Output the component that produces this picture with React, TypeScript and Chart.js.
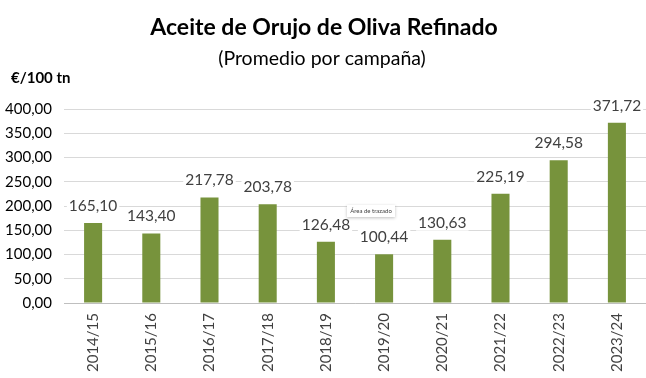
import React, { useEffect, useRef } from "react";
import { Chart, registerables } from "chart.js";

Chart.register(...registerables);

const categories = ["2014/15", "2015/16", "2016/17", "2017/18", "2018/19", "2019/20", "2020/21", "2021/22", "2022/23", "2023/24"];
const values = [165.1, 143.4, 217.78, 203.78, 126.48, 100.44, 130.63, 225.19, 294.58, 371.72];
const yTicks = [0, 50, 100, 150, 200, 250, 300, 350, 400];
const titleText = "Aceite de Orujo de Oliva Refinado";
const subtitleText = "(Promedio por campaña)";
const unitText = "€/100 tn";
const tooltipText = "Área de trazado";

const FONT = "Lato, 'Open Sans', sans-serif";
const fmt = (v: number) => v.toFixed(2).replace(".", ",");

const decorPlugin = {
  id: "decor",
  afterDatasetsDraw(chart: any) {
    const ctx = chart.ctx;
    const meta = chart.getDatasetMeta(0);
    ctx.save();
    ctx.font = `15.5px ${FONT}`;
    ctx.textAlign = "center";
    ctx.textBaseline = "middle";
    meta.data.forEach((bar: any, i: number) => {
      const t = fmt(values[i]);
      const w = ctx.measureText(t).width;
      const y = bar.y - 17;
      ctx.fillStyle = "#ffffff";
      ctx.fillRect(bar.x - w / 2 - 2, y - 8, w + 4, 16);
      ctx.fillStyle = "#404040";
      ctx.fillText(t, bar.x, y);
    });
    ctx.restore();
  },
  afterDraw(chart: any) {
    const ctx = chart.ctx;
    ctx.save();
    ctx.fillStyle = "#000000";
    ctx.textAlign = "center";
    ctx.textBaseline = "middle";
    ctx.font = `bold 23px ${FONT}`;
    ctx.fillText(titleText, 324, 28);
    ctx.font = `19.5px ${FONT}`;
    ctx.fillText(subtitleText, 322, 59);
    ctx.textAlign = "left";
    ctx.font = `bold 15px ${FONT}`;
    ctx.fillText(unitText, 11, 78);
    // small hover tooltip artifact
    ctx.shadowColor = "rgba(0,0,0,0.25)";
    ctx.shadowBlur = 3;
    ctx.shadowOffsetY = 1;
    ctx.fillStyle = "#ffffff";
    ctx.fillRect(347, 205, 48, 12);
    ctx.shadowColor = "transparent";
    ctx.fillStyle = "#404040";
    ctx.textAlign = "center";
    ctx.font = `6px ${FONT}`;
    ctx.fillText(tooltipText, 371, 211);
    ctx.restore();
  },
};

export default function App() {
  const ref = useRef<HTMLCanvasElement>(null);
  useEffect(() => {
    document.body.style.margin = "0";
    const chart = new Chart(ref.current as HTMLCanvasElement, {
      type: "bar",
      data: {
        labels: categories,
        datasets: [
          {
            data: values,
            backgroundColor: "#77933C",
            barPercentage: 0.31,
            categoryPercentage: 1,
          },
        ],
      },
      options: {
        animation: false,
        responsive: false,
        maintainAspectRatio: false,
        layout: { padding: { top: 109, left: 4, right: 0, bottom: 0 } },
        plugins: {
          legend: { display: false },
          tooltip: { enabled: false },
          title: { display: false },
        },
        scales: {
          y: {
            min: 0,
            max: 400,
            afterBuildTicks: (s: any) => {
              s.ticks = yTicks.map((v) => ({ value: v }));
            },
            afterFit: (s: any) => {
              s.width = 60;
            },
            ticks: {
              callback: (v: any) => fmt(Number(v)),
              font: { size: 15, family: FONT },
              color: "#000000",
              padding: 12,
            },
            grid: { color: "#D9D9D9", drawTicks: false, lineWidth: 1 },
            border: { display: false },
          },
          x: {
            afterFit: (s: any) => {
              s.height = 75;
            },
            ticks: {
              minRotation: 90,
              maxRotation: 90,
              font: { size: 15, family: FONT },
              color: "#404040",
              padding: 10,
            },
            grid: { display: false, drawTicks: false },
            border: { display: true, color: "#BFBFBF", width: 1 },
          },
        },
      },
      plugins: [decorPlugin],
    });
    return () => chart.destroy();
  }, []);
  return (
    <div style={{ position: "fixed", left: 0, top: 0, width: 646, height: 378, background: "#fff" }}>
      <canvas ref={ref} width={646} height={378} style={{ width: 646, height: 378 }} />
    </div>
  );
}
